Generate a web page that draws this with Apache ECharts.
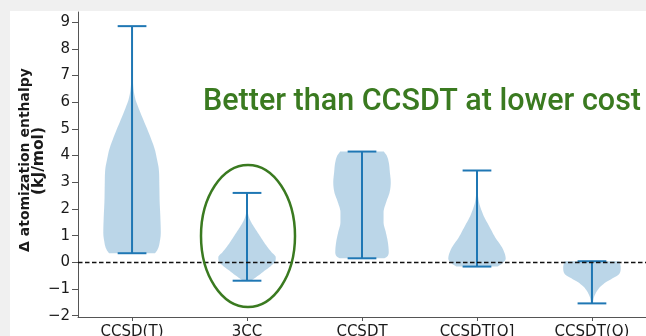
<!DOCTYPE html>
<html>
<head>
<meta charset="utf-8">
<script src="https://cdn.jsdelivr.net/npm/echarts@6/dist/echarts.min.js"></script>
<style>
  html, body { margin: 0; padding: 0; background: #f0f0f0; }
  #chart { width: 646px; height: 336px; }
</style>
</head>
<body>
<div id="chart"></div>
<script>
// Method names along the x axis
const categories = ['CCSD(T)', '3CC', 'CCSDT', 'CCSDT[Q]', 'CCSDT(Q)'];
// Extremes of each distribution (kJ/mol)
const minValues = [0.34, -0.69, 0.15, -0.16, -1.54];
const maxValues = [8.85, 2.6, 4.15, 3.44, 0.04];
const yTicks = [-2, -1, 0, 1, 2, 3, 4, 5, 6, 7, 8, 9];

// Density profiles: [value, relative half-width], bottom to top
const profileCCSDpT = [[0.34, 0.8], [0.5, 0.9], [0.8, 0.97], [1.1, 1.0], [1.7, 0.985], [2.3, 0.96], [2.9, 0.95], [3.5, 0.93], [3.9, 0.86], [4.2, 0.8], [4.8, 0.6], [5.4, 0.37], [5.8, 0.22], [6.1, 0.12], [6.5, 0.05], [7.0, 0.025], [8.0, 0.012], [8.85, 0.006]];
const profile3CC = [[-0.69, 0.15], [-0.6, 0.26], [-0.45, 0.45], [-0.3, 0.63], [-0.12, 0.85], [0.06, 0.99], [0.19, 1.0], [0.37, 0.86], [0.63, 0.67], [1.0, 0.44], [1.2, 0.32], [1.4, 0.2], [1.6, 0.1], [1.8, 0.04], [2.1, 0.015], [2.6, 0.006]];
const profileCCSDT = [[0.15, 0.78], [0.19, 0.85], [0.37, 0.93], [0.75, 0.9], [1.12, 0.83], [1.5, 0.75], [1.87, 0.75], [2.25, 0.84], [2.62, 0.96], [3.0, 1.0], [3.37, 0.97], [3.75, 0.93], [4.0, 0.86], [4.15, 0.76]];
const profileCCSDTbQ = [[-0.16, 0.72], [-0.06, 0.86], [0.13, 1.0], [0.31, 0.97], [0.56, 0.87], [0.94, 0.63], [1.2, 0.5], [1.44, 0.38], [1.7, 0.25], [1.94, 0.16], [2.2, 0.08], [2.5, 0.035], [3.0, 0.012], [3.44, 0.006]];
const profileCCSDTpQ = [[-1.54, 0.03], [-1.31, 0.07], [-1.12, 0.15], [-0.94, 0.27], [-0.75, 0.48], [-0.6, 0.72], [-0.5, 0.88], [-0.4, 0.97], [-0.19, 1.0], [0.04, 0.96]];

const profiles = [profileCCSDpT, profile3CC, profileCCSDT, profileCCSDTbQ, profileCCSDTpQ];

const BLUE = '#1f77b4';
const GREEN = '#3a7a20';
const HALF_WIDTH = 0.25;   // widest point of each violin, in x units
const CAP_HALF = 0.125;    // half length of the min/max caps
const OUTLINE_STEPS = 80;  // samples along each violin outline

// Monotone cubic (Fritsch-Carlson) curve through the profile points,
// so the outline bends smoothly without overshooting.
function monotoneCurve(pts) {
  const n = pts.length;
  const xs = pts.map(p => p[0]), ys = pts.map(p => p[1]);
  const d = [], m = new Array(n);
  for (let k = 0; k < n - 1; k++) d.push((ys[k + 1] - ys[k]) / (xs[k + 1] - xs[k]));
  m[0] = d[0]; m[n - 1] = d[n - 2];
  for (let k = 1; k < n - 1; k++) m[k] = d[k - 1] * d[k] <= 0 ? 0 : (d[k - 1] + d[k]) / 2;
  for (let k = 0; k < n - 1; k++) {
    if (d[k] === 0) { m[k] = 0; m[k + 1] = 0; continue; }
    const a = m[k] / d[k], b = m[k + 1] / d[k], s = a * a + b * b;
    if (s > 9) { const t = 3 / Math.sqrt(s); m[k] = t * a * d[k]; m[k + 1] = t * b * d[k]; }
  }
  return function (x) {
    let k = 0;
    while (k < n - 2 && x > xs[k + 1]) k++;
    const h = xs[k + 1] - xs[k], t = (x - xs[k]) / h;
    const t2 = t * t, t3 = t2 * t;
    return (2 * t3 - 3 * t2 + 1) * ys[k] + (t3 - 2 * t2 + t) * h * m[k]
         + (-2 * t3 + 3 * t2) * ys[k + 1] + (t3 - t2) * h * m[k + 1];
  };
}

function renderViolin(params, api) {
  const i = params.dataIndex;
  const pos = api.value(0);
  const prof = profiles[i];
  const curve = monotoneCurve(prof);
  const lo = prof[0][0], hi = prof[prof.length - 1][0];
  const right = [], left = [];
  for (let s = 0; s <= OUTLINE_STEPS; s++) {
    const v = lo + (hi - lo) * s / OUTLINE_STEPS;
    const w = Math.max(0, curve(v)) * HALF_WIDTH;
    right.push(api.coord([pos + w, v]));
    left.unshift(api.coord([pos - w, v]));
  }
  const top = api.coord([pos, api.value(1)]);
  const bot = api.coord([pos, api.value(2)]);
  const capL = api.coord([pos - CAP_HALF, 0])[0];
  const capR = api.coord([pos + CAP_HALF, 0])[0];
  const lineStyle = { stroke: BLUE, lineWidth: 2 };
  return {
    type: 'group',
    children: [
      { type: 'polygon', shape: { points: right.concat(left) }, style: { fill: 'rgba(31,119,180,0.3)' } },
      { type: 'line', shape: { x1: top[0], y1: top[1], x2: bot[0], y2: bot[1] }, style: lineStyle },
      { type: 'line', shape: { x1: capL, y1: top[1], x2: capR, y2: top[1] }, style: lineStyle },
      { type: 'line', shape: { x1: capL, y1: bot[1], x2: capR, y2: bot[1] }, style: lineStyle }
    ]
  };
}

const tickFont = { fontFamily: 'DejaVu Sans', fontSize: 15, color: '#1a1a1a' };
const spine = { show: true, onZero: false, lineStyle: { color: '#555', width: 1 } };

const chart = echarts.init(document.getElementById('chart'), null, { renderer: 'canvas' });
chart.setOption({
  animation: false,
  backgroundColor: '#f0f0f0',
  grid: { left: 78, top: 12, right: 0, bottom: 19, containLabel: false, outerBoundsMode: 'none' },
  xAxis: {
    type: 'value', min: 0.53, max: 5.47,
    axisLine: spine,
    axisTick: { show: true, customValues: [1, 2, 3, 4, 5], length: 4, lineStyle: { color: '#555' } },
    axisLabel: Object.assign({ customValues: [1, 2, 3, 4, 5], margin: 8,
      formatter: v => categories[Math.round(v) - 1] }, tickFont),
    splitLine: { show: false }
  },
  yAxis: {
    type: 'value', min: -2.05, max: 9.38,
    axisLine: spine,
    axisTick: { show: true, customValues: yTicks, length: 6, lineStyle: { color: '#555' } },
    axisLabel: Object.assign({ customValues: yTicks, margin: 8,
      formatter: v => (v < 0 ? '\u2212' + Math.abs(v) : String(v)) }, tickFont),
    splitLine: { show: false }
  },
  series: [
    {
      type: 'custom',
      renderItem: renderViolin,
      encode: { x: 0, y: [1, 2] },
      data: categories.map((c, i) => [i + 1, maxValues[i], minValues[i]]),
      z: 2
    },
    {
      type: 'line',
      data: [],
      markLine: {
        silent: true, symbol: 'none', label: { show: false },
        lineStyle: { color: '#111', type: [4.5, 2.5], width: 1.4 },
        data: [{ yAxis: 0 }]
      },
      z: 3
    }
  ],
  graphic: [
    { type: 'rect', z: -100, shape: { x: 10, y: 11, width: 636, height: 325 }, style: { fill: '#ffffff' } },
    {
      type: 'text', z: 100, x: 25, y: 160, rotation: Math.PI / 2,
      style: {
        text: '\u0394 atomization enthalpy',
        font: 'bold 14px "DejaVu Sans"', fill: '#1a1a1a',
        align: 'center', verticalAlign: 'middle'
      }
    },
    {
      type: 'text', z: 100, x: 39, y: 161, rotation: Math.PI / 2,
      style: {
        text: '(kJ/mol)',
        font: 'bold 15.5px "DejaVu Sans"', fill: '#1a1a1a',
        align: 'center', verticalAlign: 'middle'
      }
    },
    {
      type: 'text', z: 100, x: 203, y: 102,
      style: {
        text: 'Better than CCSDT at lower cost',
        font: '500 30.5px Roboto', fill: GREEN,
        align: 'left', verticalAlign: 'middle'
      }
    },
    {
      type: 'ellipse', z: 100,
      shape: { cx: 248, cy: 236, rx: 47, ry: 71 },
      style: { fill: 'none', stroke: GREEN, lineWidth: 2.5 }
    }
  ]
});
</script>
</body>
</html>
